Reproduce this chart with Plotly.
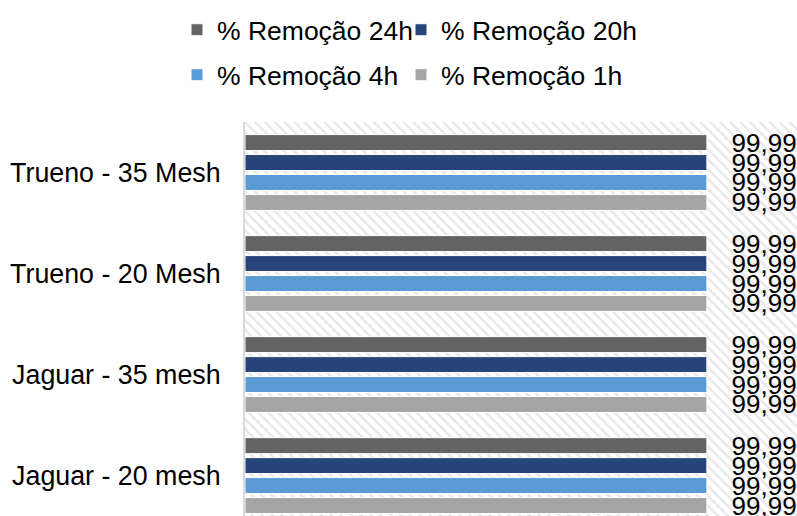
import plotly.graph_objects as go

# Sample categories (top-down via the reversed axis range)
categories = ["Trueno - 35 Mesh", "Trueno - 20 Mesh", "Jaguar - 35 mesh", "Jaguar - 20 mesh"]

# Removal percentage for each contact time
rem_24h = [99.99, 99.99, 99.99, 99.99]
rem_20h = [99.99, 99.99, 99.99, 99.99]
rem_4h = [99.99, 99.99, 99.99, 99.99]
rem_1h = [99.99, 99.99, 99.99, 99.99]

series_names = ["% Remoção 24h", "% Remoção 20h", "% Remoção 4h", "% Remoção 1h"]
series_values = [rem_24h, rem_20h, rem_4h, rem_1h]
series_colors = ["#636363", "#264478", "#5B9BD5", "#A5A5A5"]

FONT = "Liberation Sans, Arial, sans-serif"
W, H = 797, 516

# One single-entry legend per series, laid out as a 2x2 grid
legend_ids = ["legend", "legend2", "legend3", "legend4"]
legend_cols = [177, 401, 177, 401]   # left edge of each entry (px)
legend_rows = [30, 30, 75, 75]       # vertical centre of each entry (px)

fig = go.Figure()

# Hatched plot-area background drawn on a hidden helper axis pair
fig.add_trace(go.Scatter(
    x=[0, 1, 1, 0, 0], y=[0, 0, 1, 1, 0],
    xaxis="x", yaxis="y",
    mode="lines", fill="toself",
    line=dict(width=0),
    fillcolor="white",
    fillpattern=dict(shape="\\", fgcolor="#d2d2d2", bgcolor="white",
                     size=7, solidity=0.35),
    hoverinfo="skip", showlegend=False,
))

for name, vals, color, lg in zip(series_names, series_values, series_colors, legend_ids):
    fig.add_trace(go.Bar(
        name=name,
        y=categories, x=vals,
        orientation="h",
        xaxis="x2", yaxis="y2",
        marker=dict(color=color, line=dict(color="white", width=1)),
        texttemplate="\u00a0\u00a0\u00a0%{x:.2f}",
        textposition="outside",
        textangle=0,
        constraintext="none",
        cliponaxis=False,
        textfont=dict(family=FONT, size=26, color="black"),
        legend=lg,
    ))

legend_common = dict(
    orientation="h",
    xref="container", yref="container",
    xanchor="left", yanchor="middle",
    font=dict(family=FONT, size=26.5, color="black"),
    bgcolor="rgba(0,0,0,0)",
)

legends = {
    lid: dict(x=cx / W, y=1 - cy / H, **legend_common)
    for lid, cx, cy in zip(legend_ids, legend_cols, legend_rows)
}

fig.update_layout(
    width=W, height=H,
    margin=dict(l=245, r=0, t=122, b=0, pad=0),
    paper_bgcolor="white",
    plot_bgcolor="white",
    separators=",.",
    barmode="group",
    bargap=0.21,
    bargroupgap=0.2,
    font=dict(family=FONT, size=26, color="black"),
    xaxis=dict(range=[0, 1], visible=False, fixedrange=True),
    yaxis=dict(range=[0, 1], visible=False, fixedrange=True),
    xaxis2=dict(overlaying="x", range=[0, 119.5], visible=False, fixedrange=True),
    yaxis2=dict(
        overlaying="y", side="left", anchor="x",
        type="category",
        categoryorder="array", categoryarray=categories,
        range=[3.4, -0.5],
        showline=True, linecolor="#d9d9d9", linewidth=2,
        showgrid=False, zeroline=False,
        ticks="", ticklabelstandoff=17,
        tickfont=dict(family=FONT, size=26.8, color="black"),
        fixedrange=True,
    ),
    showlegend=True,
    **legends,
)

fig.write_html("out.html")
